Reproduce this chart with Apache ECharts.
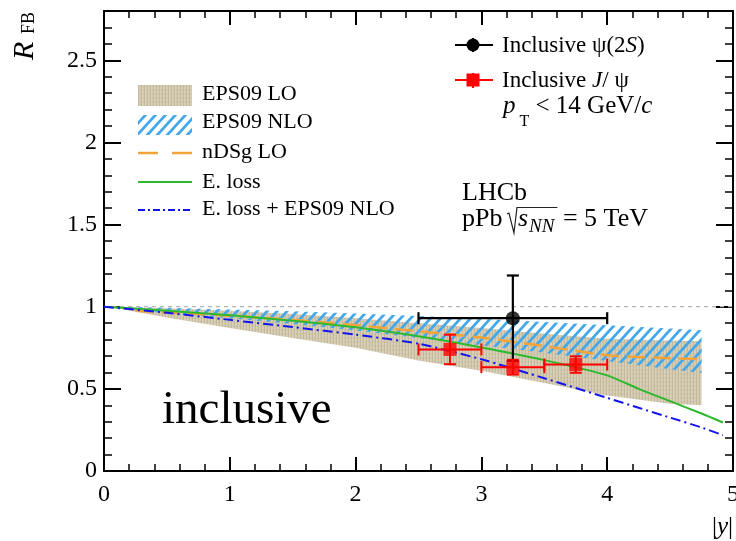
<!DOCTYPE html>
<html><head><meta charset="utf-8">
<script src="https://cdn.jsdelivr.net/npm/echarts@6/dist/echarts.min.js"></script>
<style>html,body{margin:0;padding:0;background:#fff}#c{width:736px;height:541px}</style>
</head><body><div id="c"></div>
<script>
// ---------------- data ----------------
const xTickLabels = ['0', '1', '2', '3', '4', '5'];
const yTickLabels = ['0', '0.5', '1', '1.5', '2', '2.5'];

const bandX      = [0.1, 0.25, 0.5, 1.0, 1.5, 2.0, 2.5, 3.0, 3.5, 4.0, 4.5, 4.75];
const eps09LoUp  = [1.0, 0.995, 0.99, 0.975, 0.955, 0.93, 0.90, 0.87, 0.835, 0.805, 0.795, 0.79];
const eps09LoLow = [0.99, 0.97, 0.935, 0.87, 0.81, 0.75, 0.672, 0.61, 0.535, 0.46, 0.41, 0.40];
const eps09NloUp = [1.0, 0.998, 0.993, 0.983, 0.972, 0.958, 0.943, 0.926, 0.907, 0.887, 0.868, 0.857];
const eps09NloLow= [0.995, 0.98, 0.96, 0.93, 0.895, 0.855, 0.81, 0.765, 0.72, 0.67, 0.62, 0.597];

const ndsgX = [0.25, 0.5, 1.0, 1.5, 2.0, 2.5, 3.0, 3.5, 4.0, 4.5, 4.75];
const ndsgY = [0.975, 0.965, 0.945, 0.92, 0.888, 0.85, 0.812, 0.76, 0.705, 0.686, 0.681];

const elossX    = [0, 0.5, 1.0, 1.5, 2.0, 2.5, 3.0, 3.5, 4.0, 4.25, 4.5, 4.75, 4.92];
const elossY    = [1.0, 0.975, 0.948, 0.915, 0.875, 0.82, 0.752, 0.675, 0.582, 0.50, 0.425, 0.35, 0.295];
const elossEpsY = [1.0, 0.963, 0.92, 0.876, 0.83, 0.775, 0.68, 0.565, 0.445, 0.385, 0.325, 0.265, 0.218];

const psiX = [3.25], psiY = [0.93], psiXLo = [2.5], psiXHi = [4.0], psiYErr = [0.26];
const jpsiX = [2.75, 3.25, 3.75], jpsiY = [0.74, 0.632, 0.648];
const jpsiXErr = [0.25, 0.25, 0.25], jpsiYErr = [0.09, 0.045, 0.05];

// ---------------- helpers ----------------
const FONT = '"Liberation Serif","Times New Roman",serif';
const mctx = document.createElement('canvas').getContext('2d');
function tw(t, s, it) { mctx.font = (it ? 'italic ' : '') + s + 'px ' + FONT; return mctx.measureText(t).width; }
function run(x, y, parts) {
  const els = []; let cx = x;
  parts.forEach(p => {
    cx += p.dx || 0;
    els.push({ type: 'text', x: cx, y: y + (p.dy || 0), z: 100,
      style: { text: p.t, fontSize: p.s, fontFamily: FONT, fontStyle: p.it ? 'italic' : 'normal',
               fill: '#000', verticalAlign: 'middle', align: 'left' } });
    cx += tw(p.t, p.s, p.it);
  });
  return { els, end: cx };
}
function hatchPattern() {
  const w = 10, h = 11, c = document.createElement('canvas');
  c.width = w; c.height = h;
  const g = c.getContext('2d');
  g.strokeStyle = '#43a8ea'; g.lineWidth = 2.8;
  [-w, 0, w].forEach(o => { g.beginPath(); g.moveTo(o - w, 2 * h); g.lineTo(o + 2 * w, -h); g.stroke(); });
  return { type: 'pattern', image: c, repeat: 'repeat' };
}
function beigePattern() {
  const c = document.createElement('canvas'); c.width = 3; c.height = 4;
  const g = c.getContext('2d');
  g.fillStyle = '#d8cfb8'; g.fillRect(0, 0, 3, 4);
  g.fillStyle = '#c4b99b'; g.fillRect(0, 0, 1, 4);
  g.fillStyle = '#cdc3a7'; g.fillRect(2, 1, 1, 2);
  return { type: 'pattern', image: c, repeat: 'repeat' };
}
const HATCH = hatchPattern(), BEIGE = beigePattern();

function bandSeries(up, low, fill, z) {
  return { type: 'custom', xAxisIndex: 0, yAxisIndex: 0, z, clip: true, silent: true, data: [0],
    renderItem: (params, api) => {
      const pts = [];
      for (let i = 0; i < bandX.length; i++) pts.push(api.coord([bandX[i], up[i]]));
      for (let i = bandX.length - 1; i >= 0; i--) pts.push(api.coord([bandX[i], low[i]]));
      return { type: 'polygon', shape: { points: pts }, style: { fill } };
    } };
}
function errSeries(data, color, lw, z) {
  return { type: 'custom', xAxisIndex: 0, yAxisIndex: 0, z, data, encode: { x: [0, 2, 3], y: [1, 4, 5] },
    renderItem: (params, api) => {
      const x = api.value(0), y = api.value(1);
      const pl = api.coord([api.value(2), y]), ph = api.coord([api.value(3), y]);
      const pb = api.coord([x, api.value(4)]), pt = api.coord([x, api.value(5)]);
      const cap = 6, st = { stroke: color, lineWidth: lw };
      const L = (x1, y1, x2, y2) => ({ type: 'line', shape: { x1, y1, x2, y2 }, style: st });
      return { type: 'group', children: [
        L(pl[0], pl[1], ph[0], ph[1]), L(pb[0], pb[1], pt[0], pt[1]),
        L(pl[0], pl[1] - cap, pl[0], pl[1] + cap), L(ph[0], ph[1] - cap, ph[0], ph[1] + cap),
        L(pb[0] - cap, pb[1], pb[0] + cap, pb[1]), L(pt[0] - cap, pt[1], pt[0] + cap, pt[1])
      ] };
    } };
}
const zip = (xs, ys) => xs.map((x, i) => [x, ys[i]]);

// ---------------- axes ----------------
const G = { left: 104, right: 3, top: 11, bottom: 70, containLabel: false, outerBoundsMode: 'none' };
const tickStyle = w => ({ color: '#000', width: w });
function xAx(pos, major, grid) {
  return { type: 'value', gridIndex: grid, position: pos, min: 0, max: 5, interval: major ? 1 : 0.2,
    axisLine: { show: major, onZero: false, lineStyle: { color: '#000', width: 2 } },
    axisTick: { show: true, inside: true, length: major ? 14 : 7, lineStyle: tickStyle(major ? 2 : 1.5) },
    axisLabel: { show: major && pos === 'bottom', margin: 12, fontSize: 24, fontFamily: FONT, color: '#000',
      formatter: v => { const i = Math.round(v); return Math.abs(v - i) < 1e-6 ? xTickLabels[i] : ''; } },
    splitLine: { show: false } };
}
function yAx(pos, major, grid) {
  return { type: 'value', gridIndex: grid, position: pos, min: 0, max: 2.8, interval: major ? 0.5 : 0.1,
    axisLine: { show: major, onZero: false, lineStyle: { color: '#000', width: 2 } },
    axisTick: { show: true, inside: true, length: major ? 17 : 8, lineStyle: tickStyle(major ? 2 : 1.5) },
    axisLabel: { show: major && pos === 'left', margin: 7, fontSize: 24, fontFamily: FONT, color: '#000',
      showMaxLabel: false,
      formatter: v => { const i = Math.round(v * 2); return Math.abs(v * 2 - i) < 1e-6 && i < yTickLabels.length ? yTickLabels[i] : ''; } },
    splitLine: { show: false } };
}

// ---------------- graphics (legend & texts) ----------------
const gfx = [];
const T = (x, y, parts) => { const r = run(x, y, parts); gfx.push(...r.els); return r; };
const line = (x1, y1, x2, y2, stroke, lw, dash) => gfx.push({ type: 'line', z: 100,
  shape: { x1, y1, x2, y2 }, style: { stroke, lineWidth: lw, lineDash: dash || null } });

// y title (rotated)
gfx.push({ type: 'group', x: 35, y: 60, rotation: Math.PI / 2, children: [
  { type: 'text', x: 0, y: -10, style: { text: 'R', fontSize: 30, fontStyle: 'italic', fontFamily: FONT, fill: '#000', verticalAlign: 'middle' } },
  { type: 'text', x: 26, y: -6, style: { text: 'FB', fontSize: 18, fontFamily: FONT, fill: '#000', verticalAlign: 'middle' } }
] });
// x title
T(712, 527, [{ t: '|', s: 25 }, { t: 'y', s: 25, it: true }, { t: '|', s: 25 }]);

// left legend
gfx.push({ type: 'rect', z: 100, shape: { x: 138, y: 85, width: 54, height: 21 }, style: { fill: BEIGE } });
gfx.push({ type: 'rect', z: 100, shape: { x: 138, y: 115, width: 54, height: 20 }, style: { fill: HATCH } });
line(138, 153, 158, 153, '#f2a43a', 2.5);
line(172, 153, 192, 153, '#f2a43a', 2.5);
line(138, 182, 192, 182, '#2db82d', 2);
line(138, 210, 192, 210, '#1414ee', 2, [7, 3, 2, 3]);
T(202, 94, [{ t: 'EPS09 LO', s: 22 }]);
T(202, 122.5, [{ t: 'EPS09 NLO', s: 22 }]);
T(202, 152, [{ t: 'nDSg LO', s: 22 }]);
T(202, 182, [{ t: 'E. loss', s: 22 }]);
T(202, 209.5, [{ t: 'E. loss + EPS09 NLO', s: 22 }]);

// right legend
line(455, 45, 493, 45, '#000', 2); line(473, 38, 473, 52, '#000', 2);
gfx.push({ type: 'circle', z: 101, shape: { cx: 473, cy: 45, r: 6.5 }, style: { fill: '#000' } });
line(455, 80, 493, 80, '#ff0000', 2); line(473, 73, 473, 88, '#ff0000', 2);
gfx.push({ type: 'rect', z: 101, shape: { x: 466.5, y: 73.5, width: 13, height: 13 }, style: { fill: '#ff0000' } });
T(502, 45.5, [{ t: 'Inclusive ψ(2', s: 23 }, { t: 'S', s: 23, it: true }, { t: ')', s: 23 }]);
T(502, 80.5, [{ t: 'Inclusive ', s: 23 }, { t: 'J', s: 23, it: true }, { t: '/ ψ', s: 23 }]);
T(503, 106.5, [{ t: 'p', s: 25, it: true }, { t: 'T', s: 16, dy: 15, dx: 4 }, { t: ' < 14 GeV/', s: 25, dx: 0 }, { t: 'c', s: 25, it: true }]);

// experiment labels
T(462, 193.5, [{ t: 'LHCb', s: 26 }]);
const r1 = T(462, 219.5, [{ t: 'pPb ', s: 26 }]);
const rx = r1.end - 2;
const r2 = T(rx + 11, 219.5, [{ t: 's', s: 26, it: true }, { t: 'NN', s: 19, it: true, dy: 7, dx: 1 }]);
gfx.push({ type: 'polyline', z: 100, shape: { points: [[rx, 214], [rx + 2, 213], [rx + 7, 233], [rx + 10, 207.5], [r2.end + 3, 207.5]] },
  style: { stroke: '#222', lineWidth: 1.2, fill: null } });
T(r2.end + 2, 219.5, [{ t: ' = 5 TeV', s: 26 }]);

// big label
T(162, 411, [{ t: 'inclusive', s: 47 }]);

// ---------------- chart ----------------
const chart = echarts.init(document.getElementById('c'), null, { renderer: 'canvas' });
chart.setOption({
  animation: false,
  backgroundColor: '#fff',
  grid: [Object.assign({}, G), Object.assign({}, G)],
  xAxis: [xAx('bottom', true, 0), xAx('top', true, 0), xAx('bottom', false, 1), xAx('top', false, 1)],
  yAxis: [yAx('left', true, 0), yAx('right', true, 0), yAx('left', false, 1), yAx('right', false, 1)],
  graphic: { elements: gfx },
  series: [
    bandSeries(eps09LoUp, eps09LoLow, BEIGE, 1),
    bandSeries(eps09NloUp, eps09NloLow, HATCH, 2),
    { type: 'line', xAxisIndex: 0, yAxisIndex: 0, z: 2, data: [[0, 1], [5, 1]], showSymbol: false, silent: true,
      lineStyle: { color: '#b4b4b4', width: 1.3, type: [4, 4] } },
    { type: 'line', xAxisIndex: 0, yAxisIndex: 0, z: 3, data: zip(ndsgX, ndsgY), showSymbol: false, smooth: 0.2,
      lineStyle: { color: '#f2a43a', width: 2.5, type: [18, 8] } },
    { type: 'line', xAxisIndex: 0, yAxisIndex: 0, z: 3, data: zip(elossX, elossY), showSymbol: false, smooth: 0.2,
      lineStyle: { color: '#2db82d', width: 2 } },
    { type: 'line', xAxisIndex: 0, yAxisIndex: 0, z: 3, data: zip(elossX, elossEpsY), showSymbol: false, smooth: 0.2,
      lineStyle: { color: '#1414ee', width: 2, type: [10, 4, 2, 4] } },
    errSeries(psiX.map((x, i) => [x, psiY[i], psiXLo[i], psiXHi[i], psiY[i] - psiYErr[i], psiY[i] + psiYErr[i]]), '#000', 2.2, 4),
    { type: 'scatter', xAxisIndex: 0, yAxisIndex: 0, z: 5, data: zip(psiX, psiY), symbol: 'circle', symbolSize: 14,
      itemStyle: { color: '#000' } },
    errSeries(jpsiX.map((x, i) => [x, jpsiY[i], x - jpsiXErr[i], x + jpsiXErr[i], jpsiY[i] - jpsiYErr[i], jpsiY[i] + jpsiYErr[i]]), '#ff0000', 2, 6),
    { type: 'scatter', xAxisIndex: 0, yAxisIndex: 0, z: 7, data: zip(jpsiX, jpsiY), symbol: 'rect', symbolSize: 13,
      itemStyle: { color: '#ff0000' } }
  ]
});
</script></body></html>
